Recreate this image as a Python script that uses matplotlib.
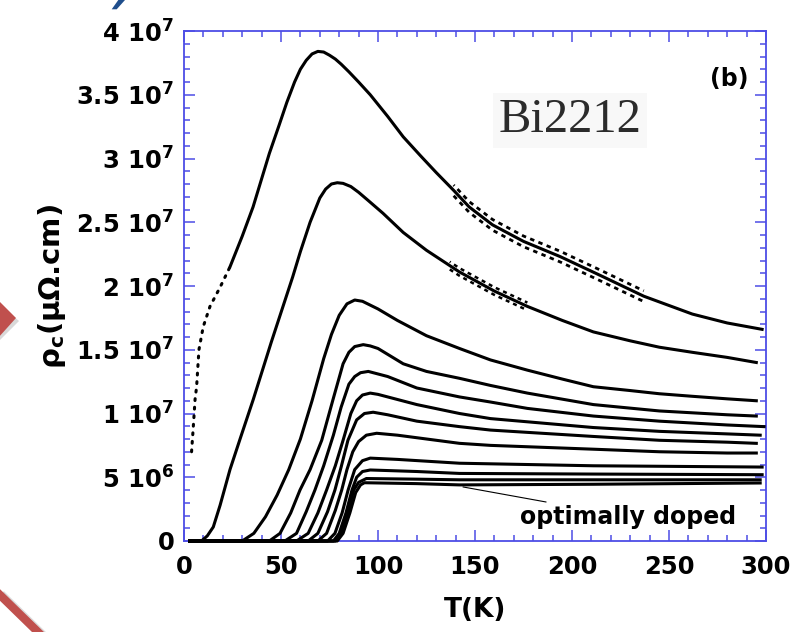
import matplotlib
matplotlib.use("Agg")
import matplotlib.pyplot as plt
from matplotlib.ticker import MultipleLocator, FixedLocator, FixedFormatter
from matplotlib.patches import Polygon
from matplotlib.lines import Line2D

plt.rcParams["font.family"] = ["DejaVu Sans"]
plt.rcParams["font.weight"] = "bold"
plt.rcParams["mathtext.fontset"] = "dejavusans"
plt.rcParams["mathtext.default"] = "bf"

# c-axis resistivity (units of 1e6 µΩ.cm) versus temperature (K), one curve per doping
T1 = [3.9, 4.5, 5.2, 5.7, 6.5, 7.7, 9.9, 13.4, 18.6, 23.7, 30, 35.6, 44, 49, 53, 57, 60, 63,
      66, 69, 72, 75, 78, 81, 85, 90, 96, 105, 113, 122, 130, 139, 147, 159, 175, 194, 215,
      237, 262, 280, 298]
R1 = [7.0, 8.3, 9.9, 11.1, 12.1, 15.0, 16.8, 18.4, 19.9, 21.5, 23.9, 26.2, 30.4, 32.6, 34.4,
      36.0, 37.0, 37.7, 38.2, 38.4, 38.35, 38.1, 37.8, 37.4, 36.8, 36.0, 35.0, 33.3, 31.7,
      30.2, 28.9, 27.5, 26.2, 24.8, 23.5, 22.3, 20.8, 19.2, 17.8, 17.1, 16.6]

T2 = [3, 9, 12, 15.1, 18.6, 23.7, 28.9, 35.7, 45, 56, 60, 65, 70, 73, 76, 79, 82, 86, 90,
      95, 102.6, 113, 125, 137, 142, 160, 177, 195, 211, 230, 245, 262, 280, 295]
R2 = [0, 0, 0.4, 1.1, 2.8, 5.6, 8.0, 11.1, 15.6, 20.7, 22.7, 25.0, 26.9, 27.6, 28.0, 28.1,
      28.05, 27.8, 27.35, 26.7, 25.7, 24.2, 22.8, 21.6, 21.1, 19.6, 18.4, 17.3, 16.4, 15.7,
      15.2, 14.8, 14.4, 14.0]

T3 = [3, 30, 36, 42, 48, 54, 60, 66, 72, 76, 80, 84, 88, 92, 96, 100, 110, 125, 142, 158,
      177, 195, 211, 230, 245, 262, 280, 295]
R3 = [0, 0, 0.6, 1.9, 3.6, 5.6, 8.0, 11.0, 14.3, 16.2, 17.7, 18.6, 18.9, 18.8, 18.5, 18.2,
      17.3, 16.1, 15.1, 14.2, 13.4, 12.7, 12.1, 11.8, 11.55, 11.35, 11.15, 11.0]

T4 = [3, 44, 49.5, 55, 59.8, 65, 71, 77, 82, 85, 88, 92.4, 96, 100, 113, 125, 142, 158, 177,
      211, 245, 280, 295]
R4 = [0, 0, 0.6, 2.2, 4.0, 5.6, 7.9, 11.2, 13.9, 14.8, 15.25, 15.4, 15.3, 15.1, 13.9, 13.3,
      12.76, 12.2, 11.6, 10.7, 10.2, 9.9, 9.8]

T5 = [3, 52, 58, 63, 67.5, 72, 77, 81, 85, 88, 91, 95, 100, 105, 120, 142, 158, 177, 211,
      245, 280, 299]
R5 = [0, 0, 0.6, 2.3, 4.0, 5.9, 8.3, 10.5, 12.3, 12.9, 13.2, 13.3, 13.1, 12.9, 12.0, 11.3,
      10.9, 10.4, 9.8, 9.4, 9.1, 8.97]

T6 = [3, 58, 64, 69, 73.5, 78, 82, 86, 89, 92, 96, 100, 105, 120, 142, 158, 211, 245, 280, 297]
R6 = [0, 0, 0.6, 2.2, 4.0, 5.9, 7.9, 10.0, 11.0, 11.45, 11.6, 11.5, 11.3, 10.7, 10.0, 9.6,
      8.9, 8.6, 8.4, 8.3]

T7 = [3, 64, 69, 74, 77.8, 81, 84.5, 89, 93, 97.5, 105, 120, 142, 158, 211, 245, 280, 295]
R7 = [0, 0, 0.6, 2.3, 4.0, 5.8, 7.9, 9.5, 10.0, 10.1, 9.9, 9.4, 8.97, 8.7, 8.2, 7.9, 7.75, 7.66]

T8 = [3, 69, 73.5, 78, 81.3, 84, 87, 90, 94, 99.3, 110, 120, 142, 158, 211, 245, 280, 295]
R8 = [0, 0, 0.6, 2.4, 4.0, 5.6, 7.0, 7.8, 8.3, 8.45, 8.3, 8.1, 7.66, 7.5, 7.2, 7.0, 6.9, 6.9]

T9 = [3, 74, 77.8, 81.5, 84.6, 88, 92, 96, 110, 142, 211, 298]
R9 = [0, 0, 0.6, 2.2, 4.0, 5.6, 6.3, 6.5, 6.4, 6.1, 5.9, 5.8]

T10 = [3, 77, 80, 83.5, 86.6, 89, 92, 96, 120, 142, 211, 298]
R10 = [0, 0, 0.6, 2.2, 4.0, 5.0, 5.45, 5.57, 5.45, 5.3, 5.25, 5.2]

T11 = [3, 78, 81, 84.5, 87.5, 90, 94, 120, 142, 211, 297]
R11 = [0, 0, 0.6, 2.2, 4.0, 4.6, 4.9, 4.85, 4.8, 4.8, 4.8]

T12 = [3, 79, 82, 85.5, 88.5, 91, 93, 120, 142, 211, 297]
R12 = [0, 0, 0.6, 2.2, 3.8, 4.4, 4.57, 4.5, 4.4, 4.45, 4.55]

curves_T = [T2, T3, T4, T5, T6, T7, T8, T9, T10, T11, T12]
curves_R = [R2, R3, R4, R5, R6, R7, R8, R9, R10, R11, R12]

x_ticks = [0, 50, 100, 150, 200, 250, 300]
x_labels = ["0", "50", "100", "150", "200", "250", "300"]
y_ticks = [0, 5e6, 1e7, 1.5e7, 2e7, 2.5e7, 3e7, 3.5e7, 4e7]
y_labels = ["0", r"5 $10^{6}$", r"1 $10^{7}$", r"1.5 $10^{7}$", r"2 $10^{7}$",
            r"2.5 $10^{7}$", r"3 $10^{7}$", r"3.5 $10^{7}$", r"4 $10^{7}$"]

SCALE = 1e6
AX_BLUE = "#4d4de6"


def scaled(values):
    return [v * SCALE for v in values]


fig = plt.figure(figsize=(8.07, 6.32), dpi=100)
fig.patch.set_facecolor("white")
ax = fig.add_axes([184 / 807, 1 - 541 / 632, (766 - 184) / 807, (541 - 31) / 632])

# lowest-doped sample: sparse points at low T, continuous above
split = 10
ax.plot(T1[:split], scaled(R1[:split]), color="black", lw=2.2,
        ls=(0, (0.6, 2.2)), dash_capstyle="round", zorder=3)
ax.plot(T1[split - 1:], scaled(R1[split - 1:]), color="black", lw=2.2,
        zorder=3, solid_joinstyle="round")

for T, R in zip(curves_T, curves_R):
    ax.plot(T, scaled(R), color="black", lw=2.2, zorder=3,
            solid_joinstyle="round", clip_on=False)

# noisy stretches of the two most resistive curves: a loose band of short dashes
def noisy_band(T, R, tmin, tmax, spread, lw):
    sel = [(t, r) for t, r in zip(T, R) if tmin <= t <= tmax]
    ts = [p[0] for p in sel]
    for k, off in enumerate((-spread, spread)):
        ax.plot(ts, scaled([p[1] + off for p in sel]), color="black", lw=lw,
                ls=(k * 1.2, (1.6, 1.6)), zorder=3)

noisy_band(T1, R1, 139, 237, 0.42, 2.0)
noisy_band(T2, R2, 137, 177, 0.3, 1.8)

ax.set_xlim(0, 300)
ax.set_ylim(0, 4e7)

ax.xaxis.set_major_locator(FixedLocator(x_ticks))
ax.xaxis.set_major_formatter(FixedFormatter(x_labels))
ax.xaxis.set_minor_locator(MultipleLocator(10))
ax.yaxis.set_major_locator(FixedLocator(y_ticks))
ax.yaxis.set_major_formatter(FixedFormatter(y_labels))
ax.yaxis.set_minor_locator(MultipleLocator(1e6))

ax.tick_params(which="both", direction="in", top=True, right=True, color=AX_BLUE,
               labelsize=17.5, labelcolor="black")
ax.tick_params(which="major", length=8, width=1.1)
ax.tick_params(which="minor", length=4.5, width=1.1)
ax.tick_params(axis="x", pad=10)
ax.tick_params(axis="y", pad=7)
for sp in ax.spines.values():
    sp.set_color(AX_BLUE)
    sp.set_linewidth(1.3)

ax.set_xlabel("T(K)", fontsize=19, fontweight="bold", labelpad=13)
ax.set_ylabel(r"ρ$_{c}$(μΩ.cm)", fontsize=21, fontweight="bold", labelpad=6)

ax.text(281, 36.2e6, "(b)", fontsize=17, fontweight="bold", ha="center", va="center")
ax.text(199, 33.0e6, "Bi2212", fontsize=35, fontweight="normal",
        family=["Liberation Serif"], color="#2b2b2b", ha="center", va="center",
        bbox=dict(facecolor="#f8f8f8", edgecolor="none", pad=4))

ax.annotate("optimally doped", xy=(143.8, 4.24e6), xytext=(173, 1.9e6),
            fontsize=17, fontweight="bold", ha="left", va="center",
            arrowprops=dict(arrowstyle="-", color="black", lw=0.8,
                            shrinkA=0, shrinkB=0))

# slide decorations around the panel
W, H = 807, 632
def fpt(x, y):
    return (x / W, 1 - y / H)

shadow = Polygon([fpt(-2, 303), fpt(19, 321), fpt(-2, 342)], closed=True,
                 transform=fig.transFigure, facecolor="#d9d9d9", edgecolor="none")
fig.patches.append(shadow)
arrow_head = Polygon([fpt(-2, 300), fpt(16, 318), fpt(-2, 338)], closed=True,
                     transform=fig.transFigure, facecolor="#c0504d", edgecolor="none")
fig.patches.append(arrow_head)
fig.lines.append(Line2D([4 / W, 44 / W], [1 - 597 / H, 1 - 636 / H], transform=fig.transFigure,
                        color="#dadada", lw=6))
fig.lines.append(Line2D([0 / W, 40 / W], [1 - 595 / H, 1 - 634 / H], transform=fig.transFigure,
                        color="#c0504d", lw=6))
blue_mark = Polygon([fpt(111.7, 9.3), fpt(116.7, 9.3), fpt(125, 0), fpt(118.3, 0)], closed=True,
                    transform=fig.transFigure, facecolor="#1f4e8c", edgecolor="none")
fig.patches.append(blue_mark)

fig.savefig("out.png", dpi=100, facecolor="white")
